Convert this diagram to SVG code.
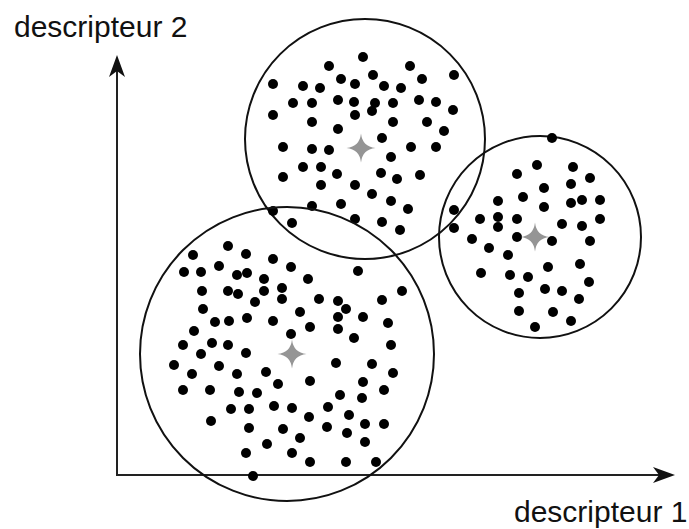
<svg xmlns="http://www.w3.org/2000/svg" xmlns:xlink="http://www.w3.org/1999/xlink" width="689" height="529" viewBox="0 0 689 529">
<style>
.bg{fill:#ffffff}
.ring{fill:none;stroke:#111;stroke-width:2}
.axis{fill:none;stroke:#222;stroke-width:2}
.head{fill:#111;stroke:none}
.pts circle{fill:#000}
.cen{fill:#959595}
.lbl{font-family:"Liberation Sans",Arial,sans-serif;font-size:30px;fill:#111}
</style>
<defs>
<path id="star" d="M0,-14.5 Q1.4,-1.4 14.5,0 Q1.4,1.4 0,14.5 Q-1.4,1.4 -14.5,0 Q-1.4,-1.4 0,-14.5Z"/>
</defs>
<rect class="bg" x="0" y="0" width="689" height="529"/>
<g id="axes">
<line class="axis" x1="117" y1="475" x2="117" y2="62"/>
<line class="axis" x1="116" y1="475" x2="667" y2="475"/>
<path class="head" d="M117,55 L125,77 L117,71 L109,77 Z"/>
<path class="head" d="M675,475 L653,467 L659,475 L653,483 Z"/>
</g>
<g id="cluster-top">
<circle class="ring" cx="365" cy="139" r="120"/>
<g class="pts">
<circle cx="363" cy="57" r="5"/><circle cx="329" cy="66" r="5"/><circle cx="410" cy="66" r="5"/><circle cx="454" cy="75" r="5"/>
<circle cx="373" cy="75" r="5"/><circle cx="422" cy="79" r="5"/><circle cx="341" cy="79" r="5"/><circle cx="273" cy="84" r="5"/>
<circle cx="303" cy="86" r="5"/><circle cx="320" cy="88" r="5"/><circle cx="355" cy="84" r="5"/><circle cx="384" cy="86" r="5"/>
<circle cx="401" cy="88" r="5"/><circle cx="293" cy="103" r="5"/><circle cx="312" cy="103" r="5"/><circle cx="338" cy="100" r="5"/>
<circle cx="354" cy="102" r="5"/><circle cx="375" cy="103" r="5"/><circle cx="372" cy="111" r="5"/><circle cx="393" cy="103" r="5"/>
<circle cx="419" cy="100" r="5"/><circle cx="436" cy="102" r="5"/><circle cx="453" cy="110" r="5"/><circle cx="273" cy="115" r="5"/>
<circle cx="355" cy="115" r="5"/><circle cx="312" cy="122" r="5"/><circle cx="393" cy="122" r="5"/><circle cx="427" cy="122" r="5"/>
<circle cx="338" cy="129" r="5"/><circle cx="444" cy="131" r="5"/><circle cx="382" cy="138" r="5"/><circle cx="283" cy="147" r="5"/>
<circle cx="312" cy="149" r="5"/><circle cx="329" cy="150" r="5"/><circle cx="411" cy="147" r="5"/><circle cx="436" cy="147" r="5"/>
<circle cx="391" cy="157" r="5"/><circle cx="303" cy="167" r="5"/><circle cx="321" cy="167" r="5"/><circle cx="337" cy="174" r="5"/>
<circle cx="283" cy="177" r="5"/><circle cx="381" cy="173" r="5"/><circle cx="397" cy="179" r="5"/><circle cx="420" cy="175" r="5"/>
<circle cx="321" cy="185" r="5"/><circle cx="355" cy="185" r="5"/><circle cx="372" cy="194" r="5"/><circle cx="391" cy="201" r="5"/>
<circle cx="341" cy="204" r="5"/><circle cx="312" cy="206" r="5"/><circle cx="408" cy="209" r="5"/><circle cx="273" cy="211" r="5"/>
<circle cx="292" cy="223" r="5"/><circle cx="355" cy="219" r="5"/><circle cx="382" cy="222" r="5"/><circle cx="400" cy="230" r="5"/>
</g>
<use class="cen" href="#star" xlink:href="#star" x="361" y="148"/>
</g>
<g id="cluster-right">
<circle class="ring" cx="540" cy="237" r="101"/>
<g class="pts">
<circle cx="552" cy="138" r="5"/><circle cx="537" cy="165" r="5"/><circle cx="573" cy="167" r="5"/><circle cx="517" cy="174" r="5"/>
<circle cx="590" cy="178" r="5"/><circle cx="544" cy="188" r="5"/><circle cx="571" cy="184" r="5"/><circle cx="498" cy="201" r="5"/>
<circle cx="523" cy="197" r="5"/><circle cx="571" cy="203" r="5"/><circle cx="582" cy="200" r="5"/><circle cx="600" cy="200" r="5"/>
<circle cx="544" cy="207" r="5"/><circle cx="454" cy="210" r="5"/><circle cx="454" cy="228" r="5"/><circle cx="480" cy="219" r="5"/>
<circle cx="498" cy="217" r="5"/><circle cx="498" cy="227" r="5"/><circle cx="517" cy="219" r="5"/><circle cx="562" cy="224" r="5"/>
<circle cx="582" cy="226" r="5"/><circle cx="600" cy="219" r="5"/><circle cx="472" cy="239" r="5"/><circle cx="517" cy="237" r="5"/>
<circle cx="552" cy="241" r="5"/><circle cx="590" cy="241" r="5"/><circle cx="489" cy="248" r="5"/><circle cx="508" cy="255" r="5"/>
<circle cx="548" cy="267" r="5"/><circle cx="580" cy="264" r="5"/><circle cx="481" cy="273" r="5"/><circle cx="510" cy="275" r="5"/>
<circle cx="528" cy="277" r="5"/><circle cx="589" cy="282" r="5"/><circle cx="545" cy="289" r="5"/><circle cx="562" cy="291" r="5"/>
<circle cx="519" cy="293" r="5"/><circle cx="579" cy="299" r="5"/><circle cx="519" cy="311" r="5"/><circle cx="553" cy="312" r="5"/>
<circle cx="571" cy="321" r="5"/><circle cx="535" cy="327" r="5"/>
</g>
<use class="cen" href="#star" xlink:href="#star" x="535" y="237"/>
</g>
<g id="cluster-bottom">
<circle class="ring" cx="287" cy="354" r="147"/>
<g class="pts">
<circle cx="228" cy="246" r="5"/><circle cx="193" cy="255" r="5"/><circle cx="246" cy="254" r="5"/><circle cx="273" cy="259" r="5"/>
<circle cx="291" cy="267" r="5"/><circle cx="358" cy="271" r="5"/><circle cx="219" cy="266" r="5"/><circle cx="184" cy="272" r="5"/>
<circle cx="201" cy="272" r="5"/><circle cx="237" cy="275" r="5"/><circle cx="247" cy="273" r="5"/><circle cx="264" cy="279" r="5"/>
<circle cx="308" cy="279" r="5"/><circle cx="202" cy="291" r="5"/><circle cx="228" cy="291" r="5"/><circle cx="238" cy="294" r="5"/>
<circle cx="264" cy="291" r="5"/><circle cx="282" cy="288" r="5"/><circle cx="282" cy="299" r="5"/><circle cx="402" cy="291" r="5"/>
<circle cx="255" cy="302" r="5"/><circle cx="319" cy="299" r="5"/><circle cx="338" cy="301" r="5"/><circle cx="382" cy="300" r="5"/>
<circle cx="203" cy="309" r="5"/><circle cx="346" cy="309" r="5"/><circle cx="300" cy="312" r="5"/><circle cx="215" cy="322" r="5"/>
<circle cx="229" cy="321" r="5"/><circle cx="247" cy="318" r="5"/><circle cx="273" cy="321" r="5"/><circle cx="338" cy="317" r="5"/>
<circle cx="363" cy="317" r="5"/><circle cx="388" cy="323" r="5"/><circle cx="194" cy="331" r="5"/><circle cx="310" cy="327" r="5"/>
<circle cx="338" cy="329" r="5"/><circle cx="291" cy="334" r="5"/><circle cx="354" cy="338" r="5"/><circle cx="183" cy="345" r="5"/>
<circle cx="212" cy="343" r="5"/><circle cx="228" cy="345" r="5"/><circle cx="201" cy="354" r="5"/><circle cx="246" cy="353" r="5"/>
<circle cx="391" cy="345" r="5"/><circle cx="174" cy="365" r="5"/><circle cx="219" cy="366" r="5"/><circle cx="336" cy="363" r="5"/>
<circle cx="372" cy="364" r="5"/><circle cx="192" cy="374" r="5"/><circle cx="237" cy="374" r="5"/><circle cx="266" cy="372" r="5"/>
<circle cx="393" cy="373" r="5"/><circle cx="278" cy="384" r="5"/><circle cx="310" cy="381" r="5"/><circle cx="363" cy="382" r="5"/>
<circle cx="183" cy="390" r="5"/><circle cx="210" cy="390" r="5"/><circle cx="239" cy="392" r="5"/><circle cx="257" cy="393" r="5"/>
<circle cx="340" cy="395" r="5"/><circle cx="362" cy="398" r="5"/><circle cx="384" cy="390" r="5"/><circle cx="231" cy="409" r="5"/>
<circle cx="249" cy="409" r="5"/><circle cx="274" cy="406" r="5"/><circle cx="292" cy="408" r="5"/><circle cx="328" cy="407" r="5"/>
<circle cx="211" cy="421" r="5"/><circle cx="309" cy="417" r="5"/><circle cx="349" cy="415" r="5"/><circle cx="365" cy="424" r="5"/>
<circle cx="384" cy="424" r="5"/><circle cx="249" cy="428" r="5"/><circle cx="283" cy="429" r="5"/><circle cx="327" cy="427" r="5"/>
<circle cx="347" cy="433" r="5"/><circle cx="300" cy="438" r="5"/><circle cx="365" cy="442" r="5"/><circle cx="267" cy="444" r="5"/>
<circle cx="246" cy="453" r="5"/><circle cx="292" cy="453" r="5"/><circle cx="310" cy="462" r="5"/><circle cx="346" cy="462" r="5"/>
<circle cx="376" cy="462" r="5"/><circle cx="253" cy="476" r="5"/>
</g>
<use class="cen" href="#star" xlink:href="#star" x="292" y="354"/>
</g>
<g id="labels">
<text class="lbl" x="14" y="37">descripteur 2</text>
<text class="lbl" x="514" y="522">descripteur 1</text>
</g>
</svg>
